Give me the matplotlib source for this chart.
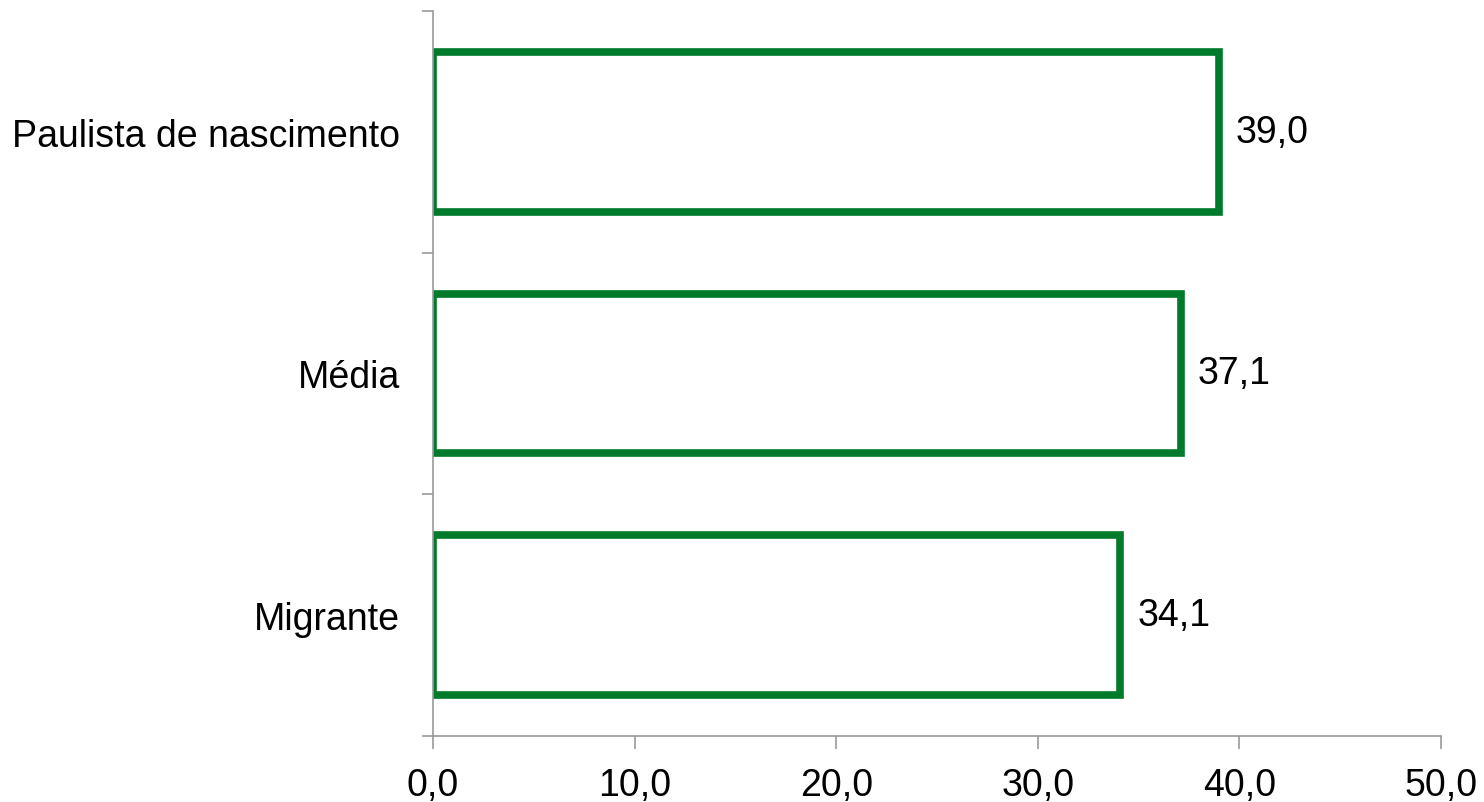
import matplotlib
matplotlib.use("Agg")
import matplotlib.pyplot as plt
import numpy as np

categories = ["Migrante", "Média", "Paulista de nascimento"]
values = [34.1, 37.1, 39.0]
xticks = [0, 10, 20, 30, 40, 50]

green = "#007a2b"
gray = "#999999"

plt.rcParams['font.family'] = ['Liberation Sans', 'DejaVu Sans']

fig = plt.figure(figsize=(14.84, 8.03), dpi=100)
ax = fig.add_axes([433 / 1484, 1 - 737 / 803, (1441 - 433) / 1484, (737 - 12) / 803])

pos = np.arange(len(categories))
ax.barh(pos, values, height=0.66, color="white", edgecolor=green, linewidth=5.5)

for p, v in zip(pos, values):
    ax.annotate(("%.1f" % v).replace(".", ","), (v, p), xytext=(12, 0),
                textcoords="offset points", va="center", ha="left", fontsize=27)

ax.set_xlim(0, 50)
ax.set_ylim(-0.5, 2.5)
ax.set_xticks(xticks)
ax.set_xticklabels([("%.1f" % x).replace(".", ",") for x in xticks], fontsize=27)
ax.set_yticks(pos)
ax.set_yticklabels(categories, fontsize=27)
ax.set_yticks([-0.5, 0.5, 1.5, 2.5], minor=True)

ax.tick_params(axis="y", which="major", length=0, pad=24)
ax.tick_params(axis="y", which="minor", length=8, width=1.2, color=gray)
ax.tick_params(axis="x", which="major", length=9, width=1.2, color=gray, pad=13)

for s in ["top", "right"]:
    ax.spines[s].set_visible(False)
for s in ["left", "bottom"]:
    ax.spines[s].set_color(gray)
    ax.spines[s].set_linewidth(1.2)

fig.savefig("out.png", dpi=100)
